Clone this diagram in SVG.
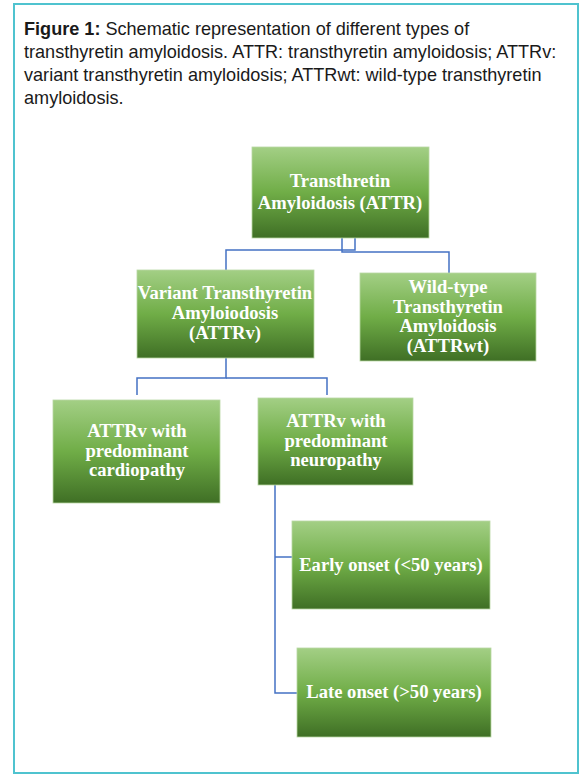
<svg xmlns="http://www.w3.org/2000/svg" width="581" height="776" viewBox="0 0 581 776">
<defs>
<linearGradient id="g" x1="0" y1="0" x2="0" y2="1">
<stop offset="0" stop-color="#a3cf85"/>
<stop offset="0.5" stop-color="#70ad47"/>
<stop offset="1" stop-color="#3f6f25"/>
</linearGradient>
<style>
.box{fill:url(#g);stroke:#b8d8a4;stroke-width:0.8}
.t{font-family:"Liberation Serif","Times New Roman",serif;font-weight:bold;font-size:18.6px;fill:#fff;text-anchor:middle}
.cap{font-family:"Liberation Sans",Arial,sans-serif;font-size:18.1px;fill:#1a1a1a}
.c{fill:none;stroke:#4472c4;stroke-width:1.5}
</style>
</defs>
<rect x="14" y="4" width="564" height="769" fill="#fff" stroke="#4fc3cf" stroke-width="2"/>
<g id="caption">
<text class="cap" x="24" y="35"><tspan font-weight="bold">Figure 1:</tspan> Schematic representation of different types of</text>
<text class="cap" x="24" y="58">transthyretin amyloidosis. ATTR: transthyretin amyloidosis; ATTRv:</text>
<text class="cap" x="24" y="81">variant transthyretin amyloidosis; ATTRwt: wild-type transthyretin</text>
<text class="cap" x="24" y="104">amyloidosis.</text>
</g>
<g id="connectors">
<polyline class="c" points="355,238 355,250 226,250 226,270"/>
<polyline class="c" points="342,238 342,252 449,252 449,273"/>
<polyline class="c" points="226,358 226,378 137,378 137,395"/>
<polyline class="c" points="226,378 327,378 327,395"/>
<polyline class="c" points="275,485 275,693 297,693"/>
<polyline class="c" points="275,557 292,557"/>
</g>
<g id="n1">
<rect class="box" x="252" y="147" width="177" height="91"/>
<text class="t" x="340" y="187">Transthretin</text>
<text class="t" x="340" y="209">Amyloidosis (ATTR)</text>
</g>
<g id="n2">
<rect class="box" x="137" y="270" width="177" height="88"/>
<text class="t" x="225" y="299">Variant Transthyretin</text>
<text class="t" x="225" y="319">Amyloiodosis</text>
<text class="t" x="225" y="339">(ATTRv)</text>
</g>
<g id="n3">
<rect class="box" x="360" y="273" width="176" height="88"/>
<text class="t" x="448" y="293">Wild-type</text>
<text class="t" x="448" y="313">Transthyretin</text>
<text class="t" x="448" y="332">Amyloidosis</text>
<text class="t" x="448" y="352">(ATTRwt)</text>
</g>
<g id="n4">
<rect class="box" x="53" y="400" width="167" height="103"/>
<text class="t" x="137" y="437">ATTRv with</text>
<text class="t" x="137" y="457">predominant</text>
<text class="t" x="137" y="476">cardiopathy</text>
</g>
<g id="n5">
<rect class="box" x="258" y="398" width="155" height="87"/>
<text class="t" x="336" y="427">ATTRv with</text>
<text class="t" x="336" y="447">predominant</text>
<text class="t" x="336" y="466">neuropathy</text>
</g>
<g id="n6">
<rect class="box" x="292" y="521" width="198" height="88"/>
<text class="t" x="391" y="571">Early onset (&lt;50 years)</text>
</g>
<g id="n7">
<rect class="box" x="297" y="648" width="194" height="89"/>
<text class="t" x="394" y="698">Late onset (&gt;50 years)</text>
</g>
</svg>
